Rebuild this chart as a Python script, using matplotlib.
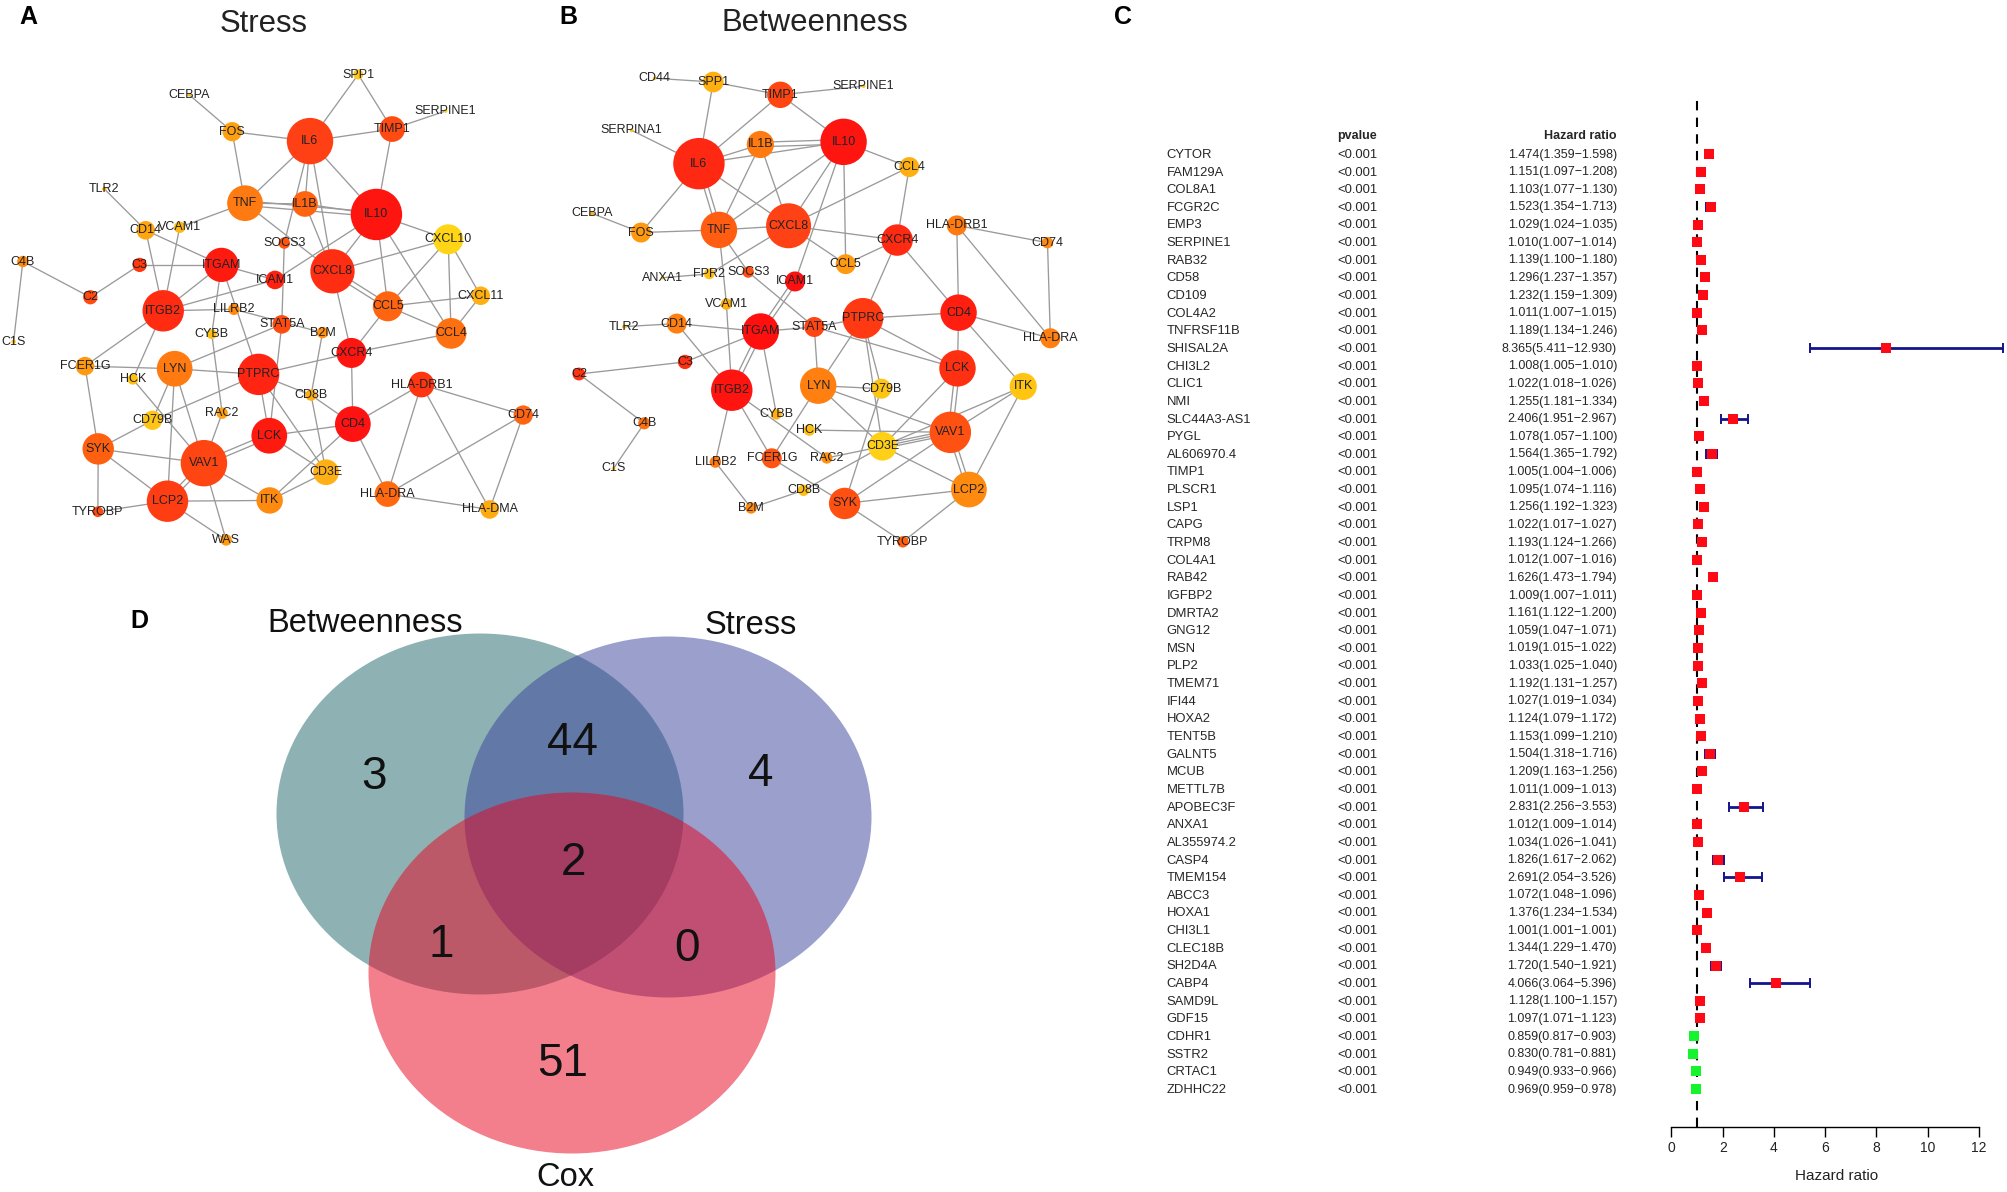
import matplotlib
matplotlib.use("Agg")
import matplotlib.pyplot as plt
from matplotlib.patches import Ellipse
from matplotlib.transforms import blended_transform_factory
import numpy as np

plt.rcParams['font.family'] = ['Liberation Sans', 'DejaVu Sans']

W, H = 2008, 1192

# ---------- Panel A: Stress network ----------
a_names = ["SPP1","CEBPA","SERPINE1","FOS","IL6","TIMP1","TLR2","TNF","IL1B","IL10","CD14","VCAM1","CXCL10","SOCS3","C4B","C3","ITGAM","CXCL8","ICAM1","C2","ITGB2","CXCL11","CCL5","LILRB2","STAT5A","B2M","CCL4","CYBB","C1S","CXCR4","FCER1G","LYN","PTPRC","HCK","HLA-DRB1","CD8B","CD79B","RAC2","CD74","CD4","LCK","SYK","VAV1","CD3E","ITK","HLA-DRA","HLA-DMA","LCP2","TYROBP","WAS"]
a_x = [1003,530,1248,650,868,1098,292,686,854,1054,408,503,1255,796,64,391,620,931,770,253,457,1346,1086,655,789,903,1263,593,38,984,238,489,724,372,1180,871,427,622,1465,988,754,275,571,913,755,1085,1371,469,274,633]
a_y = [198,252,295,350,375,343,502,540,542,570,612,604,636,646,695,704,704,721,744,790,826,786,814,822,862,884,886,888,908,938,973,980,995,1008,1022,1050,1117,1098,1103,1127,1158,1193,1231,1255,1330,1313,1354,1332,1360,1435]
a_r = [14,5,5,27,65,36,6,50,36,72,26,16,42,16,16,20,48,62,26,20,58,26,42,16,26,16,43,14,6,42,26,50,58,15,36,16,27,16,27,50,50,44,65,36,37,36,26,58,15,16]
a_c = ["#FFC81A","#FFC010","#FFD010","#FFA010","#FF4015","#FF4A12","#FFB010","#FF7A10","#FF6510","#FF1510","#FFA510","#FFB810","#FFD515","#FF5510","#FF8A10","#FF3A10","#FF1A0F","#FF2D12","#FF2010","#FF4A10","#FF2C12","#FFB010","#FF6510","#FF8A10","#FF4A10","#FF9010","#FF7010","#FFC015","#FFC010","#FF1510","#FF9A10","#FF7A10","#FF2512","#FFC015","#FF3512","#FFB010","#FFC515","#FFA010","#FF6510","#FF1212","#FF1A10","#FF6010","#FF4512","#FFB015","#FF8A10","#FF6A10","#FFAA10","#FF3D12","#FF4A10","#FF9A10"]
a_edges = [("SPP1","IL6"),("SPP1","TIMP1"),("CEBPA","FOS"),("SERPINE1","TIMP1"),("FOS","IL6"),("FOS","TNF"),("IL6","TIMP1"),("TIMP1","IL10"),("IL6","TNF"),("IL6","IL1B"),("IL6","IL10"),("IL6","CXCL8"),("IL6","SOCS3"),("TNF","IL1B"),("IL1B","IL10"),("IL1B","CXCL8"),("TNF","CXCL8"),("TNF","VCAM1"),("TLR2","CD14"),("CD14","ITGAM"),("CD14","ITGB2"),("VCAM1","ITGB2"),("IL10","CXCL8"),("IL10","CXCL10"),("IL10","CCL5"),("IL10","CCL4"),("IL10","ICAM1"),("CXCL10","CXCL8"),("CXCL10","CCL5"),("CXCL10","CXCL11"),("CXCL10","CCL4"),("CXCL11","CCL4"),("CXCL11","CCL5"),("CCL5","CCL4"),("CCL5","CXCR4"),("CCL4","CXCR4"),("CXCL8","CXCR4"),("SOCS3","STAT5A"),("C4B","C2"),("C4B","C1S"),("C2","C3"),("C3","ITGAM"),("ITGAM","ICAM1"),("ITGAM","ITGB2"),("ITGAM","PTPRC"),("ITGAM","CYBB"),("CYBB","RAC2"),("ICAM1","ITGB2"),("ITGB2","LILRB2"),("LILRB2","B2M"),("ITGB2","FCER1G"),("ITGB2","HCK"),("FCER1G","LYN"),("FCER1G","SYK"),("STAT5A","LYN"),("STAT5A","LCK"),("LYN","PTPRC"),("LYN","CD79B"),("LYN","VAV1"),("LYN","LCP2"),("HCK","VAV1"),("PTPRC","CXCR4"),("PTPRC","CD79B"),("PTPRC","LCK"),("PTPRC","CD8B"),("PTPRC","CD3E"),("CD8B","CD4"),("B2M","CD8B"),("CD8B","CD3E"),("CXCR4","CD4"),("CD4","HLA-DRB1"),("CD4","LCK"),("CD4","HLA-DRA"),("CD4","ITK"),("HLA-DRB1","CD74"),("HLA-DRB1","HLA-DRA"),("HLA-DRB1","HLA-DMA"),("CD74","HLA-DRA"),("CD74","HLA-DMA"),("HLA-DRA","HLA-DMA"),("CD79B","SYK"),("RAC2","VAV1"),("LCK","CD3E"),("SYK","VAV1"),("SYK","LCP2"),("SYK","TYROBP"),("TYROBP","LCP2"),("VAV1","ITK"),("VAV1","WAS"),("LCP2","ITK"),("LCP2","WAS"),("ITK","CD3E")]
a_double = [("TNF","IL10"),("CCL5","CXCL8"),("LCK","VAV1"),("VAV1","LCP2")]

# ---------- Panel B: Betweenness network ----------
b_names = ["CD44","SPP1","TIMP1","SERPINE1","SERPINA1","IL10","IL1B","IL6","CCL4","CEBPA","FOS","TNF","CXCL8","HLA-DRB1","CD74","CXCR4","CCL5","ANXA1","FPR2","SOCS3","ICAM1","VCAM1","PTPRC","CD4","TLR2","CD14","ITGAM","STAT5A","HLA-DRA","C3","C2","LCK","ITGB2","LYN","CD79B","ITK","CYBB","HCK","C4B","VAV1","CD3E","RAC2","FCER1G","LILRB2","C1S","LCP2","CD8B","SYK","B2M","TYROBP"]
b_x = [293,457,645,878,228,822,589,417,1006,117,255,473,668,1139,1393,972,828,315,446,555,686,494,876,1144,208,355,590,740,1401,378,81,1141,509,751,928,1325,634,726,264,1121,931,775,621,463,178,1173,710,825,563,988]
b_y = [208,218,252,229,346,377,384,435,444,567,618,611,600,599,645,638,702,738,728,723,748,808,846,831,868,860,881,869,899,962,994,979,1037,1025,1033,1027,1101,1143,1125,1149,1186,1217,1218,1228,1245,1301,1303,1338,1350,1440]
b_r = [5,29,37,5,5,65,38,72,28,6,28,51,63,28,16,44,28,5,15,16,28,16,57,51,6,28,51,28,28,20,18,51,58,51,28,38,15,16,17,58,40,16,28,16,5,50,16,44,16,16]
b_c = ["#FFC010","#FFB010","#FF4512","#FFC010","#FFC010","#FF1510","#FF7A10","#FF2812","#FFB010","#FFB010","#FF9A10","#FF5E12","#FF4215","#FF7A10","#FF8A10","#FF2A12","#FF9A10","#FFC010","#FFC015","#FF5012","#FF1010","#FFB010","#FF3A12","#FF1E10","#FFB010","#FF8010","#FF100F","#FF4512","#FF8010","#FF3010","#FF3512","#FF3012","#FF1410","#FF8010","#FFC515","#FFC510","#FFB010","#FFC015","#FF7010","#FF5212","#FFD015","#FF9010","#FF5512","#FF7A10","#FFC010","#FF8A10","#FFC015","#FF5012","#FF8A10","#FF6010"]
b_edges = [("CD44","SPP1"),("SPP1","TIMP1"),("SPP1","IL6"),("TIMP1","SERPINE1"),("TIMP1","IL6"),("TIMP1","IL10"),("SERPINA1","IL6"),("IL6","IL1B"),("IL6","IL10"),("IL1B","TNF"),("IL1B","CXCL8"),("IL6","CXCL8"),("IL6","FOS"),("CEBPA","FOS"),("FOS","TNF"),("TNF","CXCL8"),("TNF","IL10"),("CXCL8","IL10"),("CXCL8","CCL4"),("CXCL8","CXCR4"),("CXCL8","CCL5"),("CXCL8","FPR2"),("ANXA1","FPR2"),("IL10","CCL4"),("IL10","CCL5"),("IL10","ICAM1"),("CCL4","CXCR4"),("CCL5","CXCR4"),("CXCR4","PTPRC"),("CXCR4","CD4"),("HLA-DRB1","CD74"),("HLA-DRB1","CD4"),("HLA-DRB1","HLA-DRA"),("CD74","HLA-DRA"),("CD4","HLA-DRA"),("CD4","PTPRC"),("CD4","LCK"),("CD4","ITK"),("TNF","VCAM1"),("VCAM1","ITGB2"),("TNF","SOCS3"),("SOCS3","STAT5A"),("TLR2","CD14"),("CD14","ITGAM"),("CD14","ITGB2"),("ITGAM","STAT5A"),("STAT5A","PTPRC"),("ITGAM","C3"),("C3","C2"),("C2","C4B"),("C4B","C1S"),("ITGAM","CYBB"),("STAT5A","LYN"),("STAT5A","LCK"),("PTPRC","LYN"),("PTPRC","LCK"),("PTPRC","CD79B"),("PTPRC","CD3E"),("LYN","CD79B"),("LYN","VAV1"),("LYN","CD3E"),("LYN","FCER1G"),("CD79B","SYK"),("ITGB2","RAC2"),("ITGB2","FCER1G"),("ITGB2","LILRB2"),("LILRB2","B2M"),("B2M","CD8B"),("CD8B","CD3E"),("FCER1G","SYK"),("HCK","VAV1"),("RAC2","VAV1"),("CD3E","LCK"),("VAV1","SYK"),("VAV1","ITK"),("LCP2","ITK"),("LCP2","SYK"),("LCP2","TYROBP"),("SYK","TYROBP"),("CD3E","ITK"),("CD3E","LCP2")]
b_double = [("IL1B","IL10"),("IL6","TNF"),("ICAM1","ITGAM"),("ITGAM","ITGB2"),("CD3E","VAV1"),("VAV1","LCK"),("VAV1","LCP2")]

# ---------- Panel C: forest plot ----------
genes = ["CYTOR","FAM129A","COL8A1","FCGR2C","EMP3","SERPINE1","RAB32","CD58","CD109","COL4A2","TNFRSF11B","SHISAL2A","CHI3L2","CLIC1","NMI","SLC44A3-AS1","PYGL","AL606970.4","TIMP1","PLSCR1","LSP1","CAPG","TRPM8","COL4A1","RAB42","IGFBP2","DMRTA2","GNG12","MSN","PLP2","TMEM71","IFI44","HOXA2","TENT5B","GALNT5","MCUB","METTL7B","APOBEC3F","ANXA1","AL355974.2","CASP4","TMEM154","ABCC3","HOXA1","CHI3L1","CLEC18B","SH2D4A","CABP4","SAMD9L","GDF15","CDHR1","SSTR2","CRTAC1","ZDHHC22"]
hr = [1.474,1.151,1.103,1.523,1.029,1.010,1.139,1.296,1.232,1.011,1.189,8.365,1.008,1.022,1.255,2.406,1.078,1.564,1.005,1.095,1.256,1.022,1.193,1.012,1.626,1.009,1.161,1.059,1.019,1.033,1.192,1.027,1.124,1.153,1.504,1.209,1.011,2.831,1.012,1.034,1.826,2.691,1.072,1.376,1.001,1.344,1.720,4.066,1.128,1.097,0.859,0.830,0.949,0.969]
hr_lo = [1.359,1.097,1.077,1.354,1.024,1.007,1.100,1.237,1.159,1.007,1.134,5.411,1.005,1.018,1.181,1.951,1.057,1.365,1.004,1.074,1.192,1.017,1.124,1.007,1.473,1.007,1.122,1.047,1.015,1.025,1.131,1.019,1.079,1.099,1.318,1.163,1.009,2.256,1.009,1.026,1.617,2.054,1.048,1.234,1.001,1.229,1.540,3.064,1.100,1.071,0.817,0.781,0.933,0.959]
hr_hi = [1.598,1.208,1.130,1.713,1.035,1.014,1.180,1.357,1.309,1.015,1.246,12.930,1.010,1.026,1.334,2.967,1.100,1.792,1.006,1.116,1.323,1.027,1.266,1.016,1.794,1.011,1.200,1.071,1.022,1.040,1.257,1.034,1.172,1.210,1.716,1.256,1.013,3.553,1.014,1.041,2.062,3.526,1.096,1.534,1.001,1.470,1.921,5.396,1.157,1.123,0.903,0.881,0.966,0.978]
pvalue_text = "<0.001"
hr_ticks = [0, 2, 4, 6, 8, 10, 12]

# ---------- Panel D: Venn ----------
venn_sets = ["Betweenness", "Stress", "Cox"]
venn_counts = {"B": 3, "BS": 44, "S": 4, "BSC": 2, "BC": 1, "SC": 0, "C": 51}

fig = plt.figure(figsize=(W / 100, H / 100), dpi=100, facecolor="white")

def px_axes(x0, y0, x1, y1, **kw):
    return fig.add_axes([x0 / W, 1 - y1 / H, (x1 - x0) / W, (y1 - y0) / H], **kw)

def ftext(x, y, s, **kw):
    kw.setdefault("ha", "center")
    kw.setdefault("va", "center")
    return fig.text(x / W, 1 - y / H, s, **kw)

def network(ax, names, xs, ys, rs, cols, edges, doubles):
    pos = {n: (x, y) for n, x, y in zip(names, xs, ys)}
    ax.set_xlim(0, 1568)
    ax.set_ylim(1568, 0)
    ax.axis("off")
    ax.patch.set_alpha(0)
    for u, v in edges:
        ax.plot([pos[u][0], pos[v][0]], [pos[u][1], pos[v][1]], color="#9a9a9a", lw=0.95, zorder=1)
    for u, v in doubles:
        (x0, y0), (x1, y1) = pos[u], pos[v]
        d = np.hypot(x1 - x0, y1 - y0)
        ox, oy = -(y1 - y0) / d * 6, (x1 - x0) / d * 6
        for s in (-1, 1):
            ax.plot([x0 + s * ox, x1 + s * ox], [y0 + s * oy, y1 + s * oy], color="#9a9a9a", lw=0.95, zorder=1)
    sizes = [(2 * r / 2.8 * 0.72) ** 2 for r in rs]
    ax.scatter(xs, ys, s=sizes, c=cols, linewidths=0, zorder=2)
    for n, x, y in zip(names, xs, ys):
        ax.text(x, y, n, ha="center", va="center", fontsize=9, color="#222222", zorder=3)

axA = px_axes(0, 0, 560, 590)
network(axA, a_names, a_x, a_y, a_r, a_c, a_edges, a_double)
axB = px_axes(550, 0, 1110, 590)
network(axB, b_names, b_x, b_y, b_r, b_c, b_edges, b_double)

ftext(264, 24, "Stress", fontsize=22.4, color="#222222")
ftext(815, 23, "Betweenness", fontsize=22.4, color="#222222")
ftext(28, 17, "A", fontsize=18, fontweight="bold")
ftext(568, 17, "B", fontsize=18, fontweight="bold")
ftext(1123, 17, "C", fontsize=18, fontweight="bold")
ftext(139, 621, "D", fontsize=18, fontweight="bold")

# Forest plot
x0c, x12c = 1671.5, 1979
row0, rowh = 154.0, 935.0 / 53
ytop, ybot = 100, 1127
axC = px_axes(x0c, ytop, x12c, ybot)
axC.set_xlim(0, 12)
axC.set_ylim((ybot - row0) / rowh, (ytop - row0) / rowh)
axC.patch.set_alpha(0)
for s in ("top", "left", "right"):
    axC.spines[s].set_visible(False)
axC.spines["bottom"].set_linewidth(1.0)
axC.set_yticks([])
axC.set_xticks(hr_ticks)
axC.tick_params(axis="x", length=7.2, width=1.0, pad=3, labelsize=10, labelcolor="#222222")
axC.set_xlabel("Hazard ratio", fontsize=11, color="#222222", va="center")
axC.xaxis.set_label_coords((1836.7 - x0c) / (x12c - x0c), -(1176 - ybot) / (ybot - ytop))
axC.axvline(1, color="black", lw=1.5, ls=(0, (4.5, 3.5)), zorder=1)

rows = np.arange(len(genes))
hr_a, lo_a, hi_a = np.array(hr), np.array(hr_lo), np.array(hr_hi)
axC.errorbar(hr_a, rows, xerr=[hr_a - lo_a, hi_a - hr_a], fmt="none", ecolor="#14148C",
             elinewidth=2.0, capsize=3.8, capthick=1.4, clip_on=False, zorder=2)
cols = ["#FF0A14" if v > 1 else "#14F52D" for v in hr]
axC.scatter(hr_a, rows, marker="s", s=(10 * 0.72) ** 2, c=cols, linewidths=0, zorder=3, clip_on=False)

tr = blended_transform_factory(fig.transFigure, axC.transData)
tc = "#262626"
for i, g in enumerate(genes):
    axC.text(1166.5 / W, i + 0.05, g, transform=tr, ha="left", va="center", fontsize=9.4, color=tc)
    axC.text(1337 / W, i + 0.05, pvalue_text, transform=tr, ha="left", va="center", fontsize=9.4, color=tc)
    axC.text(1617 / W, i + 0.03, f"{hr[i]:.3f}({hr_lo[i]:.3f}\u2212{hr_hi[i]:.3f})", transform=tr,
             ha="right", va="center", fontsize=9.0, color=tc)
axC.text(1337 / W, -1.03, "pvalue", transform=tr, ha="left", va="center", fontsize=9.0, fontweight="bold", color=tc)
axC.text(1617 / W, -1.03, "Hazard ratio", transform=tr, ha="right", va="center", fontsize=9.0, fontweight="bold", color=tc)

# Venn
axD = px_axes(0, 590, 1110, 1192)
axD.set_xlim(0, 1110)
axD.set_ylim(1192, 590)
axD.axis("off")
axD.patch.set_alpha(0)
venn_geom = {"Betweenness": ((480, 814), "#1F676B"), "Stress": ((668, 817), "#37419B"), "Cox": ((572, 973), "#E9011D")}
for name in venn_sets:
    c, col = venn_geom[name]
    axD.add_patch(Ellipse(c, 407, 361, facecolor=col, edgecolor="none", alpha=0.5))
count_pos = {"B": (374, 777), "BS": (573, 743), "S": (761, 774), "BSC": (573, 863), "BC": (441, 945), "SC": (687, 949), "C": (563, 1064)}
for k, v in venn_counts.items():
    axD.text(*count_pos[k], str(v), ha="center", va="center", fontsize=33, color="#111111")
ftext(365, 624, venn_sets[0], fontsize=23.5, color="#111111")
ftext(751, 626, venn_sets[1], fontsize=23.5, color="#111111")
ftext(565, 1177, venn_sets[2], fontsize=23.5, color="#111111")

fig.savefig("out.png", dpi=100)
